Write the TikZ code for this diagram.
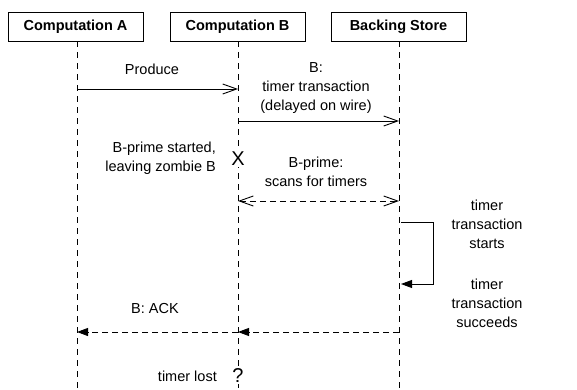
\documentclass[tikz,border=0pt]{standalone}
\usepackage{fontspec}
\setmainfont{Liberation Sans}
\usetikzlibrary{arrows.meta}
\begin{document}
\begin{tikzpicture}[x=1pt,y=-1pt,
  actor/.style={draw,line width=0.9pt,minimum width=135pt,minimum height=29pt,inner sep=0pt,font=\fontsize{14.5}{17}\selectfont\bfseries},
  lbl/.style={font=\fontsize{14.5}{19}\selectfont,align=center,inner sep=0pt},
  bigsym/.style={font=\fontsize{20}{20}\selectfont,fill=white,inner sep=1pt},
  life/.style={line width=0.9pt,dash pattern=on 6pt off 5pt},
  msg/.style={line width=0.9pt},
  dmsg/.style={line width=0.9pt,dash pattern=on 6pt off 4pt},
  openhead/.style={-{Straight Barb[length=14pt,width=10pt]}},
  fillhead/.style={-{Triangle[length=11pt,width=8pt]}},
]
\useasboundingbox (0,0) rectangle (577,390);
\node[actor] (A) at (75.5,26.5) {Computation A};
\node[actor] (B) at (237.5,26.5) {Computation B};
\node[actor] (S) at (398.5,26.5) {Backing Store};
\coordinate (Aend) at (77,390);
\coordinate (Bend) at (238,390);
\coordinate (Send) at (399,390);
\draw[life] (A.south -| Aend) -- (Aend);
\draw[life] (B.south -| Bend) -- (Bend);
\draw[life] (S.south -| Send) -- (Send);
% Produce
\coordinate (p1) at (77,89); \coordinate (p2) at (238,89);
\draw[msg,openhead] (p1) -- (p2);
\node[lbl] (lp) at (152,69) {Produce};
% B: timer transaction
\coordinate (t1) at (238,121); \coordinate (t2) at (399,121);
\draw[msg,openhead] (t1) -- (t2);
\node[lbl] (lt) at (316,88) {B:\\timer transaction\\(delayed on wire)};
% X
\node[bigsym] (X) at (238,159) {X};
\node[lbl,anchor=east,align=right] (lz) at (216,158) {B-prime started,\\leaving zombie B};
% scans
\coordinate (s1) at (238,201); \coordinate (s2) at (399,201);
\draw[dmsg,{Straight Barb[length=14pt,width=10pt]}-{Straight Barb[length=14pt,width=10pt]}] (s1) -- (s2);
\node[lbl] (ls) at (316,172) {B-prime:\\scans for timers};
% self loop
\coordinate (l1) at (401,222); \coordinate (l2) at (433,222);
\coordinate (l3) at (433,284); \coordinate (l4) at (401,284);
\draw[msg,fillhead] (l1) -- (l2) -- (l3) -- (l4);
\node[lbl] (lst) at (487,224) {timer\\transaction\\starts};
\node[lbl] (lsu) at (487,303) {timer\\transaction\\succeeds};
% ACK
\coordinate (a1) at (399,332); \coordinate (a2) at (238,332); \coordinate (a3) at (77,332);
\draw[dmsg,fillhead] (a1) -- (a2);
\draw[dmsg,fillhead] (a2) -- (a3);
\node[lbl] (la) at (155,309) {B: ACK};
% lost
\node[bigsym] (Q) at (238,376) {?};
\node[lbl,anchor=east] (ll) at (217,376) {timer lost};
\end{tikzpicture}
\end{document}
